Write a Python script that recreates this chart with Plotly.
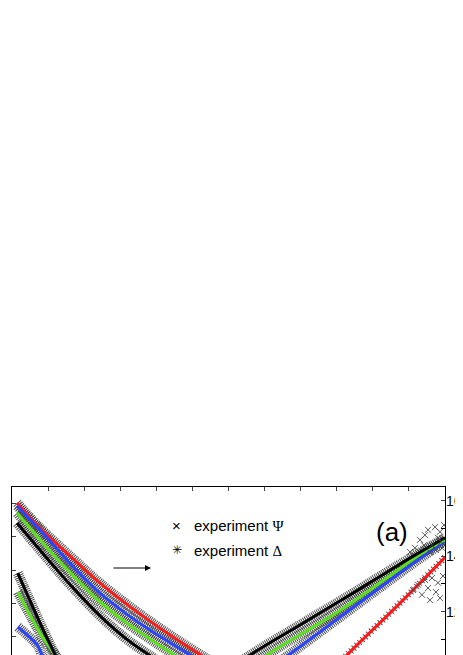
import plotly.graph_objects as go

# wavelength (nm) and Delta (deg, right axis) for the falling curves
wl_red_d = [307, 336, 385, 422, 491, 562, 644]
delta_red = [159.2, 150.9, 139.0, 130.3, 116.6, 104.4, 91.8]
wl_blue_d = [307, 339, 385, 422, 457, 491, 547, 630]
delta_blue = [158.1, 149.4, 136.1, 126.7, 119.5, 113.4, 104.4, 91.1]
wl_green_d = [307, 360, 385, 422, 457, 491, 525, 602]
delta_green = [155.6, 139.7, 132.9, 123.5, 116.3, 110.2, 104.4, 91.8]
wl_black_d = [307, 360, 385, 422, 457, 490, 561]
delta_black = [152.0, 135.8, 128.5, 118.5, 110.5, 104.4, 92.5]

# steep falling curves (second sample)
wl_black_s = [308, 360, 380]
delta_black_s = [133.9, 104.4, 95.4]
wl_green_s = [308, 343, 360, 378]
delta_green_s = [127.1, 110.5, 104.4, 97.2]
wl_blue_s = [308, 335, 342, 360]
delta_blue_s = [114.5, 108.0, 104.4, 99.0]

# rising curves, Psi (deg, left axis)
wl_black_a = [561, 630, 699, 755, 838, 900]
psi_black = [12.1, 17.3, 21.8, 25.4, 30.9, 34.8]
wl_green_a = [588, 653, 755, 875, 900]
psi_green = [12.1, 17.3, 24.0, 33.0, 34.5]
wl_blue_a = [616, 683, 755, 847, 900]
psi_blue = [12.1, 17.3, 23.0, 30.3, 34.3]
wl_red_a = [699, 764, 838, 900]
psi_red = [10.3, 17.3, 25.1, 31.9]

# scattered experimental Psi points near the long-wavelength end
wl_scatter = [865.4, 872.3, 876.5, 882.0, 886.2, 890.3, 893.1, 895.9, 898.6, 879.2,
              887.5, 894.5, 870.9, 858.4, 851.5,
              855.7, 862.6, 868.1, 872.3, 876.5, 882.0, 887.5, 890.3, 893.1, 897.2, 879.2]
psi_scatter = [34.5, 35.2, 36.0, 33.7, 36.4, 34.8, 35.7, 33.3, 36.7, 32.7,
               33.0, 34.2, 33.7, 33.3, 32.7,
               27.0, 27.8, 26.3, 28.5, 27.3, 28.8, 26.7, 28.1, 25.8, 29.1, 25.5]

RED = '#ff1a1a'
BLUE = '#2a45ff'
GREEN = '#5be01e'
BLACK = '#000000'

curves = [
    (wl_red_d, delta_red, RED, 'y2'),
    (wl_blue_d, delta_blue, BLUE, 'y2'),
    (wl_green_d, delta_green, GREEN, 'y2'),
    (wl_black_d, delta_black, BLACK, 'y2'),
    (wl_blue_s, delta_blue_s, BLUE, 'y2'),
    (wl_green_s, delta_green_s, GREEN, 'y2'),
    (wl_black_s, delta_black_s, BLACK, 'y2'),
    (wl_red_a, psi_red, RED, 'y'),
    (wl_blue_a, psi_blue, BLUE, 'y'),
    (wl_green_a, psi_green, GREEN, 'y'),
    (wl_black_a, psi_black, BLACK, 'y'),
]

fig = go.Figure()

# experimental points drawn as a dense hatched band under each fit
for x, y, color, ax in curves:
    sparse = color == RED and ax == 'y'
    fig.add_trace(go.Scatter(
        x=x, y=y, yaxis=ax, mode='lines', hoverinfo='skip', showlegend=False,
        line=dict(color='rgba(50,50,50,0.85)' if not sparse else 'rgba(40,40,40,0.8)',
                  width=10 if not sparse else 7,
                  dash='1px,1px' if not sparse else '1px,3px', shape='spline')))

# model fits
for x, y, color, ax in curves:
    fig.add_trace(go.Scatter(
        x=x, y=y, yaxis=ax, mode='lines', showlegend=False,
        line=dict(color=color, width=3, shape='spline')))

fig.add_trace(go.Scatter(
    x=wl_scatter, y=psi_scatter, mode='markers', showlegend=False,
    marker=dict(symbol='x-thin-open', size=6, color='#444444',
                line=dict(color='#444444', width=0.9))))

font = 'Liberation Sans, Arial, sans-serif'
# the page body keeps an 8px margin, so the figure is 8px smaller and margins shifted
fig.update_layout(
    width=455, height=647,
    margin=dict(l=4, r=18, t=479, b=0, autoexpand=False),
    paper_bgcolor='white', plot_bgcolor='white',
    font=dict(family=font, size=14, color='black'),
    xaxis=dict(range=[300, 900], side='top', dtick=50, ticks='inside', ticklen=4,
               showticklabels=False, showline=True, linecolor='black', linewidth=1.2,
               showgrid=False, zeroline=False, automargin=False),
    yaxis=dict(range=[17.31, 42.39], dtick=5, tick0=0, ticks='inside', ticklen=4,
               showticklabels=False, showline=True, linecolor='black', linewidth=1.2,
               showgrid=False, zeroline=False, automargin=False),
    yaxis2=dict(range=[104.4, 164.94], overlaying='y', side='right', dtick=20, tick0=0,
                ticks='inside', ticklen=4, showline=True, linecolor='black', linewidth=1.2,
                showgrid=False, zeroline=False, automargin=False, ticklabelstandoff=-3,
                minor=dict(dtick=10, tick0=0, ticks='inside', ticklen=4, tickcolor='black')),
    annotations=[
        dict(xref='paper', yref='paper', x=0.381, y=0.833, text='×', showarrow=False,
             font=dict(size=15)),
        dict(xref='paper', yref='paper', x=0.4157, y=0.833, xanchor='left',
             text='experiment <span style="font-family:Liberation Serif">Ψ</span>',
             showarrow=False, font=dict(size=15)),
        dict(xref='paper', yref='paper', x=0.381, y=0.625, text='✳', showarrow=False,
             font=dict(size=12, family='DejaVu Sans')),
        dict(xref='paper', yref='paper', x=0.4157, y=0.625, xanchor='left',
             text='experiment <span style="font-family:Liberation Serif">Δ</span>',
             showarrow=False, font=dict(size=15)),
        dict(xref='paper', yref='paper', x=0.321, y=0.518, ax=-39, ay=0, text='',
             showarrow=True, arrowhead=2, arrowsize=1, arrowwidth=1.2, arrowcolor='black'),
        dict(xref='paper', yref='paper', x=0.919, y=0.833, text='(a)', showarrow=False,
             font=dict(size=26)),
    ],
)

fig.write_html("out.html")
